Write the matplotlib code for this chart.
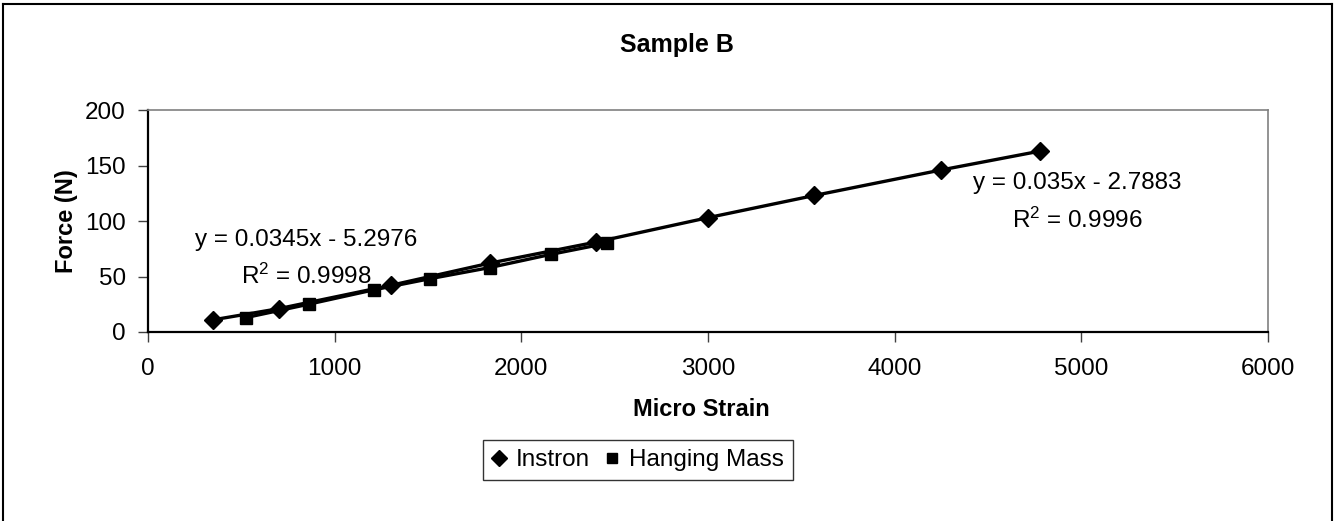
import matplotlib
matplotlib.use("Agg")
import matplotlib.pyplot as plt
from matplotlib.lines import Line2D

plt.rcParams['font.family'] = ['Liberation Sans', 'DejaVu Sans']
plt.rcParams['mathtext.fontset'] = 'custom'
plt.rcParams['mathtext.rm'] = 'Liberation Sans'
plt.rcParams['mathtext.it'] = 'Liberation Sans'
plt.rcParams['mathtext.default'] = 'regular'

# Data
instron_strain = [350, 700, 1300, 1830, 2400, 3000, 3570, 4250, 4780]
instron_force = [11, 21, 42, 62, 81, 103, 123, 146, 163]
hanging_strain = [525, 860, 1210, 1510, 1830, 2160, 2460]
hanging_force = [13, 25, 38, 48, 58, 70, 80]

title = "Sample B"
xlabel = "Micro Strain"
ylabel = "Force (N)"
series_names = ["Instron", "Hanging Mass"]
eq_left = ["y = 0.0345x - 5.2976", "R$^2$ = 0.9998"]
eq_right = ["y = 0.035x - 2.7883", "R$^2$ = 0.9996"]
xticks = [0, 1000, 2000, 3000, 4000, 5000, 6000]
yticks = [0, 50, 100, 150, 200]

W, H = 1340, 521
fig = plt.figure(figsize=(W / 100, H / 100), dpi=100)
fig.patch.set_facecolor('white')

ax = fig.add_axes([148 / W, 1 - 332 / H, (1268 - 148) / W, (332 - 110) / H])

ax.plot(instron_strain, instron_force, color='black', lw=2.4, marker='D',
        ms=9.5, mfc='black', mec='black', zorder=3)
ax.plot(hanging_strain, hanging_force, color='black', lw=2.4, marker='s',
        ms=8, mfc='black', mec='black', zorder=3)

ax.set_xlim(0, 6000)
ax.set_ylim(0, 200)
ax.set_xticks(xticks)
ax.set_yticks(yticks)
ax.tick_params(axis='both', direction='out', length=7, width=1, color='#404040',
               labelsize=17.5, labelcolor='black')
ax.tick_params(axis='x', pad=12)
ax.tick_params(axis='y', pad=9)

for s in ['left', 'bottom']:
    ax.spines[s].set_color('black')
    ax.spines[s].set_linewidth(1.6)
for s in ['top', 'right']:
    ax.spines[s].set_color('#808080')
    ax.spines[s].set_linewidth(1.2)

ax.set_xlabel(xlabel, fontsize=17, fontweight='bold', va='center')
ax.xaxis.set_label_coords((701 - 148) / 1120, (332 - 410) / 222)
ax.set_ylabel(ylabel, fontsize=17, fontweight='bold', va='center')
ax.yaxis.set_label_coords((66 - 148) / 1120, 0.5)

# Trendline labels
ax.text(846, 82.9, eq_left[0], fontsize=17.5, ha='center', va='center')
ax.text(846, 50.5, eq_left[1], fontsize=17.5, ha='center', va='center')
ax.text(4977, 134.2, eq_right[0], fontsize=17.5, ha='center', va='center')
ax.text(4977, 100.9, eq_right[1], fontsize=17.5, ha='center', va='center')

fig.text(677 / W, 1 - 45 / H, title, fontsize=18, fontweight='bold',
         ha='center', va='center')

handles = [
    Line2D([], [], linestyle='none', marker='D', ms=8.5, color='black'),
    Line2D([], [], linestyle='none', marker='s', ms=7.5, color='black'),
]
leg = fig.legend(handles, series_names, loc='center',
                 bbox_to_anchor=(638 / W, 1 - 460 / H), ncol=2,
                 fontsize=17.5, frameon=True, fancybox=False, shadow=False,
                 handlelength=0.6, handletextpad=0.4, columnspacing=0.6,
                 borderpad=0.35, borderaxespad=0)
leg.get_frame().set_edgecolor('black')
leg.get_frame().set_linewidth(1.0)

# Outer chart border (bottom edge is outside the picture)
bx0, bx1, by0 = 3 / W, 1332 / W, 1 - 4 / H
fig.add_artist(Line2D([bx0, bx0], [by0, -0.1], transform=fig.transFigure,
                      color='black', lw=1.5))
fig.add_artist(Line2D([bx0, bx1], [by0, by0], transform=fig.transFigure,
                      color='black', lw=1.5))
fig.add_artist(Line2D([bx1, bx1], [by0, -0.1], transform=fig.transFigure,
                      color='black', lw=1.5))

fig.savefig('out.png', dpi=100, facecolor='white')
